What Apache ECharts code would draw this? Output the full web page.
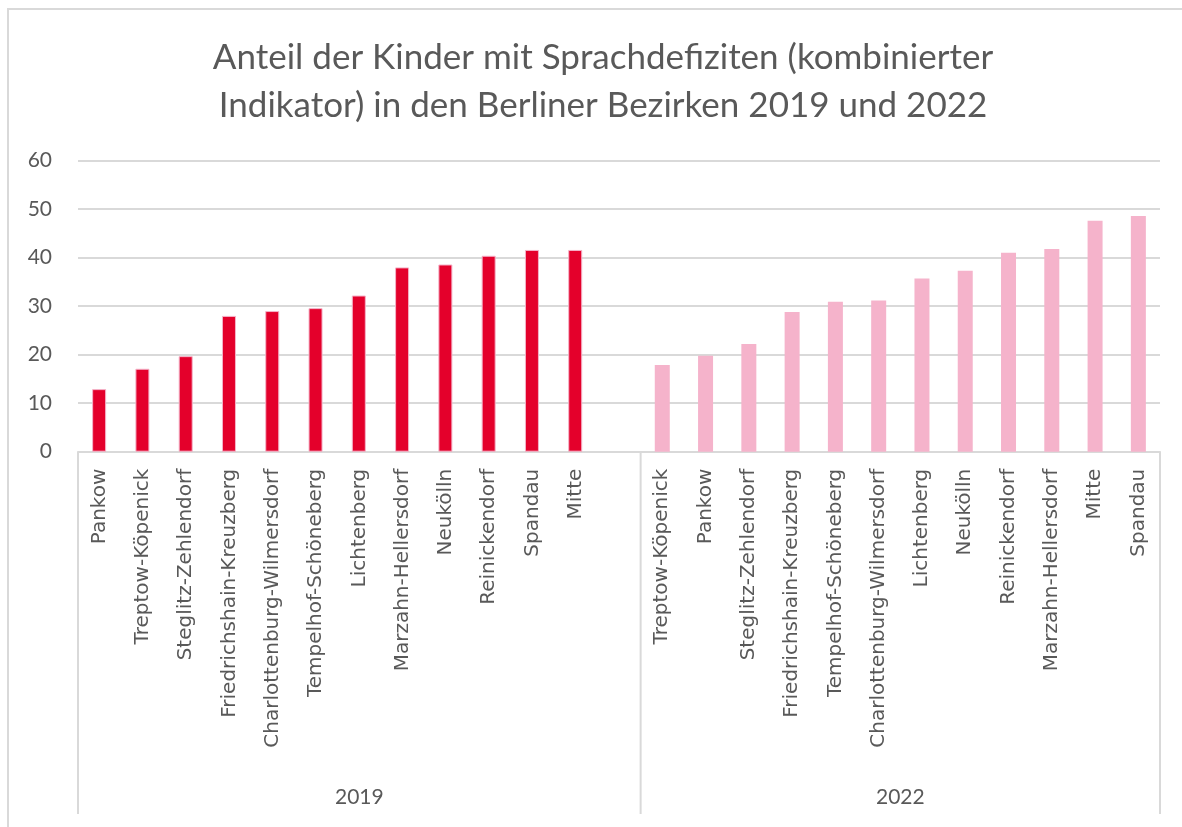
<!DOCTYPE html>
<html>
<head>
<meta charset="utf-8">
<script src="https://cdn.jsdelivr.net/npm/echarts@6/dist/echarts.min.js"></script>
<style>
  html, body { margin: 0; padding: 0; background: #fff; }
  #chart { width: 1182px; height: 827px; }
</style>
</head>
<body>
<div id="chart"></div>
<script>
// Districts per survey year (sorted by share within each year)
const districts2019 = ['Pankow', 'Treptow-Köpenick', 'Steglitz-Zehlendorf', 'Friedrichshain-Kreuzberg',
  'Charlottenburg-Wilmersdorf', 'Tempelhof-Schöneberg', 'Lichtenberg', 'Marzahn-Hellersdorf',
  'Neukölln', 'Reinickendorf', 'Spandau', 'Mitte'];
const values2019 = [12.9, 17.1, 19.7, 28.0, 29.0, 29.6, 32.2, 38.0, 38.6, 40.4, 41.6, 41.6];

const districts2022 = ['Treptow-Köpenick', 'Pankow', 'Steglitz-Zehlendorf', 'Friedrichshain-Kreuzberg',
  'Tempelhof-Schöneberg', 'Charlottenburg-Wilmersdorf', 'Lichtenberg', 'Neukölln',
  'Reinickendorf', 'Marzahn-Hellersdorf', 'Mitte', 'Spandau'];
const values2022 = [17.9, 19.8, 22.2, 28.8, 30.9, 31.2, 35.7, 37.3, 41.0, 41.8, 47.6, 48.6];

const years = ['2019', '2022'];
const yTicks = { min: 0, max: 60, interval: 10 };

const textColor = '#595959';
const lineColor = '#d9d9d9';
const titleFont = 'Lato, "Noto Sans", sans-serif';
const labelFont = '"DejaVu Sans", "Noto Sans", sans-serif';

// One shared category axis: 2019 districts, an empty slot, then 2022 districts
const categories = [...districts2019, '', ...districts2022];
const blank = (n) => Array(n).fill('-');
const series2019 = [...values2019, ...blank(1 + districts2022.length)];
const series2022 = [...blank(districts2019.length + 1), ...values2022];

const chart = echarts.init(document.getElementById('chart'), null, { renderer: 'canvas' });

const option = {
  backgroundColor: '#fff',
  animation: false,
  title: {
    text: 'Anteil der Kinder mit Sprachdefiziten (kombinierter\nIndikator) in den Berliner Bezirken 2019 und 2022',
    left: 598,
    top: 29,
    textAlign: 'center',
    textStyle: {
      color: textColor,
      fontFamily: titleFont,
      fontWeight: 'normal',
      fontSize: 35,
      lineHeight: 48
    }
  },
  grid: { left: 78, right: 22, top: 160.7, bottom: 375.3, containLabel: false },
  xAxis: {
    type: 'category',
    data: categories,
    boundaryGap: true,
    axisLine: { show: true, lineStyle: { color: lineColor, width: 2 } },
    axisTick: { show: false },
    axisLabel: {
      interval: 0,
      rotate: 90,
      margin: 17,
      color: textColor,
      fontFamily: labelFont,
      fontSize: 20
    }
  },
  yAxis: {
    type: 'value',
    min: yTicks.min,
    max: yTicks.max,
    interval: yTicks.interval,
    axisLine: { show: false },
    axisTick: { show: false },
    splitLine: { lineStyle: { color: lineColor, width: 2 } },
    axisLabel: {
      margin: 26,
      color: textColor,
      fontFamily: titleFont,
      fontSize: 21
    }
  },
  series: [
    {
      name: years[0],
      type: 'bar',
      data: series2019,
      barWidth: 14,
      barGap: '-100%',
      itemStyle: { color: '#e4002b', borderColor: '#f4b3c8', borderWidth: 1 }
    },
    {
      name: years[1],
      type: 'bar',
      data: series2022,
      barWidth: 15,
      itemStyle: { color: '#f5b3cb' }
    }
  ]
};

chart.setOption(option);

// Group separators and year labels beneath the district names, placed from the axis scale
function drawGroups() {
  const x0 = chart.convertToPixel({ xAxisIndex: 0 }, 0);
  const x1 = chart.convertToPixel({ xAxisIndex: 0 }, 1);
  const band = x1 - x0;
  const n2019 = districts2019.length + 1;
  const left = x0 - band / 2;
  const mid = left + band * n2019;
  const right = left + band * categories.length;
  const yTop = chart.convertToPixel({ yAxisIndex: 0 }, 0);
  const yBottom = 814;
  const lineStyle = { stroke: lineColor, lineWidth: 2 };
  const mkLine = (x) => ({ type: 'line', shape: { x1: x, y1: yTop, x2: x, y2: yBottom }, style: lineStyle, silent: true });
  const mkText = (x, t) => ({
    type: 'text', x: x, y: 797,
    style: { text: t, fill: textColor, font: '21px ' + titleFont, textAlign: 'center', textVerticalAlign: 'middle' },
    silent: true
  });
  chart.setOption({
    graphic: [
      // chart frame
      { type: 'rect', shape: { x: 8, y: 9, width: 1200, height: 900 }, style: { fill: 'none', stroke: lineColor, lineWidth: 2 }, silent: true, z: -1 },
      mkLine(left), mkLine(mid), mkLine(right),
      mkText((left + mid) / 2, years[0]),
      mkText((mid + right) / 2, years[1])
    ]
  });
}
drawGroups();
</script>
</body>
</html>
